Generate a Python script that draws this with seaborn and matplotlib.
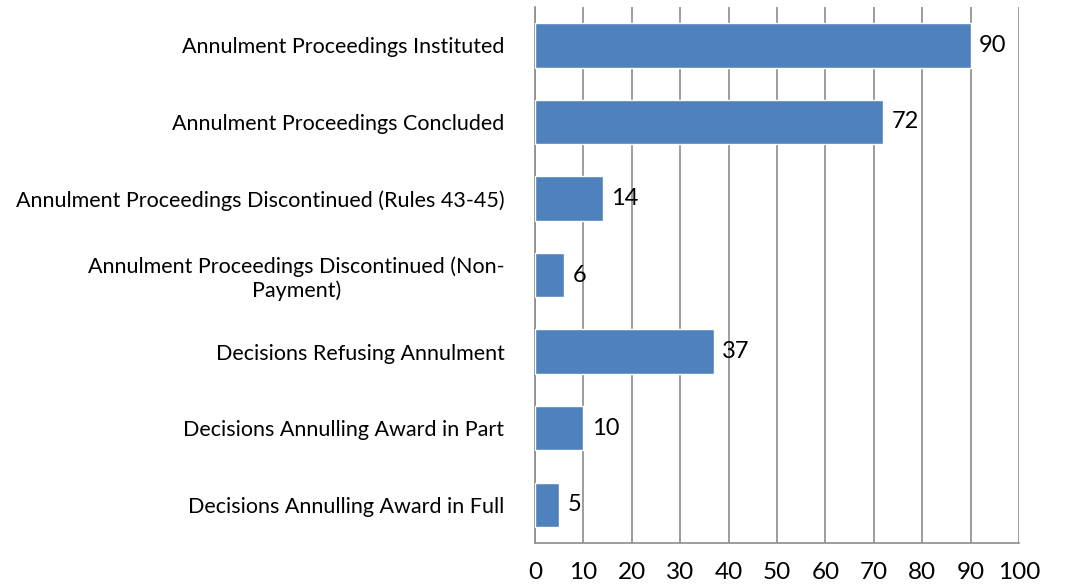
import numpy as np
import pandas as pd
import seaborn as sns
import matplotlib.pyplot as plt

categories = [
    "Annulment Proceedings Instituted",
    "Annulment Proceedings Concluded",
    "Annulment Proceedings Discontinued (Rules 43-45)",
    "Annulment Proceedings Discontinued (Non-\nPayment)",
    "Decisions Refusing Annulment",
    "Decisions Annulling Award in Part",
    "Decisions Annulling Award in Full",
]
counts = [90, 72, 14, 6, 37, 10, 5]
x_ticks = [0, 10, 20, 30, 40, 50, 60, 70, 80, 90, 100]

df = pd.DataFrame({"Category": categories, "Count": counts})

sns.set_style("white")
plt.rcParams["font.family"] = ["Lato", "DejaVu Sans"]

fig = plt.figure(figsize=(10.67, 5.88), dpi=100)
ax = fig.add_axes([0.5014, 0.0765, 0.4536, 0.9115])

sns.barplot(data=df, x="Count", y="Category", color="#4f81bd", width=0.58,
            saturation=1, ax=ax, zorder=3)

ax.set_xlim(0, 100)
ax.set_ylim(6.5, -0.5)
ax.set_xticks(x_ticks)
ax.xaxis.grid(True, color="#8c8c8c", linewidth=1.2, zorder=0)
ax.set_axisbelow(True)
ax.set_xlabel("")
ax.set_ylabel("")

for side in ["top", "right"]:
    ax.spines[side].set_visible(False)
for side in ["left", "bottom"]:
    ax.spines[side].set_color("#8c8c8c")
    ax.spines[side].set_linewidth(1.2)

ax.tick_params(axis="x", length=0, pad=14, labelsize=17.5, colors="black")
ax.tick_params(axis="y", length=0, pad=22, labelsize=15.5, colors="black")
for lab in ax.get_yticklabels():
    lab.set_multialignment("center")

for i, v in enumerate(counts):
    ax.annotate(str(v), xy=(v, i), xytext=(6, 0), textcoords="offset points",
                va="center", ha="left", fontsize=17, color="black")

fig.savefig("out.png", dpi=100)
